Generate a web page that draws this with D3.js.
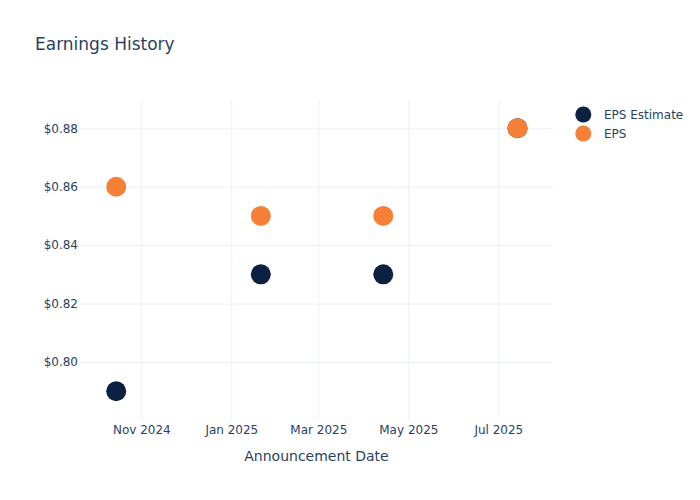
<!DOCTYPE html>
<html><head><meta charset="utf-8">
<script src="https://cdn.jsdelivr.net/npm/d3@7"></script>
<style>body{margin:0;background:#fff}svg{font-family:"DejaVu Sans",Verdana,sans-serif}</style>
</head><body><svg id="c" width="700" height="500"></svg>
<script>
const dates = ["2024-10-15","2025-01-21","2025-04-14","2025-07-14"];
const epsEstimate = [0.79, 0.83, 0.83, 0.88];
const eps = [0.86, 0.85, 0.85, 0.88];
const yTicks = [0.80, 0.82, 0.84, 0.86, 0.88];
const xTicks = ["2024-11-01","2025-01-01","2025-03-01","2025-05-01","2025-07-01"];
const seriesNames = ["EPS Estimate","EPS"];
const colors = ["#0c2041","#f68038"];

const parse = d3.utcParse("%Y-%m-%d");
const svg = d3.select("#c");
const L=80,R=553,T=100,B=420;
const x = d3.scaleUtc().domain([parse("2024-11-01"), parse("2025-01-01")]).range([141.3,231.3]);
const y = d3.scaleLinear().domain([0.80,0.88]).range([362,128.3]);
const ink="#2a3f5f", grid="#ebf0f8";

svg.append("text").attr("x",35).attr("y",50).attr("font-size",17).attr("fill",ink).text("Earnings History");

const gx = svg.append("g").attr("transform",`translate(0,${B})`)
  .call(d3.axisBottom(x).tickValues(xTicks.map(parse)).tickFormat(d3.utcFormat("%b %Y")).tickSize(-(B-T)).tickPadding(5));
const gy = svg.append("g").attr("transform",`translate(${L},0)`)
  .call(d3.axisLeft(y).tickValues(yTicks).tickFormat(d=>"$"+d.toFixed(2)).tickSize(-(R-L)).tickPadding(2));
[gx,gy].forEach(g=>{
  g.select(".domain").remove();
  g.selectAll("line").attr("stroke",grid).attr("stroke-width",1);
  g.selectAll("text").attr("fill",ink).attr("font-size",12).attr("font-family","DejaVu Sans");
});
gx.selectAll("text").attr("dy","0.71em");

svg.append("text").attr("x",(L+R)/2).attr("y",461).attr("text-anchor","middle").attr("font-size",14).attr("fill",ink).text("Announcement Date");

[epsEstimate, eps].forEach((vals,i)=>{
  svg.append("g").selectAll("circle").data(vals).join("circle")
    .attr("cx",(d,j)=>x(parse(dates[j]))).attr("cy",d=>y(d)).attr("r",10)
    .attr("fill",colors[i]);
});

const lg = svg.append("g");
seriesNames.forEach((n,i)=>{
  lg.append("circle").attr("cx",583.3).attr("cy",114.5+i*19).attr("r",8).attr("fill",colors[i]);
  lg.append("text").attr("x",604).attr("y",114.5+i*19).attr("dy","0.35em").attr("font-size",12).attr("fill",ink).text(n);
});
</script></body></html>
